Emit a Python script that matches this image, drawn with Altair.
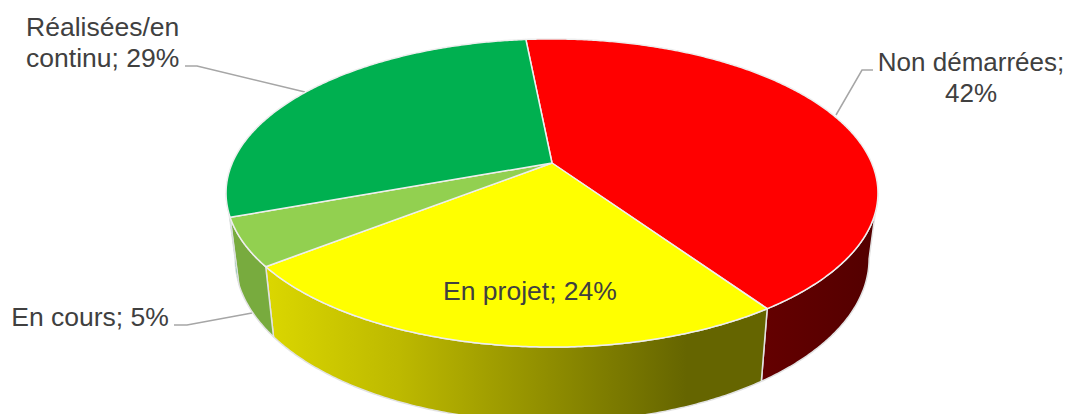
import math
import altair as alt
import pandas as pd

categories = ["Non démarrées", "En projet", "En cours", "Réalisées/en continu"]
shares = [42, 24, 5, 29]
top_colors = ["#ff0000", "#ffff00", "#92d050", "#00b050"]
label_lines = [["Non démarrées;", "42%"], ["En projet; 24%"], ["En cours; 5%"], ["Réalisées/en", "continu; 29%"]]
label_sizes = [26, 26.5, 26.5, 26.5]

START = -5.6
K = 0.1948
CX = 552


def project(theta, ring):
    a, b, y0 = ring
    u, v = math.sin(math.radians(theta)), -math.cos(math.radians(theta))
    d = 1 - K * v
    return CX + a * u / d, y0 + b * v / d


TOP = (319.7, 148.2, 163.0)
BOTTOM = (311.0, 157.0, 227.0)
SIL = math.degrees(math.asin(K))


def arc(t0, t1, ring):
    n = max(2, int(abs(t1 - t0)) * 2)
    return [project(t0 + (t1 - t0) * i / n, ring) for i in range(n + 1)]


def frame(points):
    return pd.DataFrame([{"x": x, "y": y, "i": i} for i, (x, y) in enumerate(points)])


bounds = [START]
for s in shares:
    bounds.append(bounds[-1] + s * 3.6)

X = alt.X("x:Q", scale=alt.Scale(domain=[8, 1066], nice=False, zero=False), axis=None)
Y = alt.Y("y:Q", scale=alt.Scale(domain=[414, 8], nice=False, zero=False), axis=None)


def poly(points, fill, stroke, width=1.5):
    return alt.Chart(frame(points)).mark_line(
        fill=fill, stroke=stroke, strokeWidth=width, strokeJoin="round", interpolate="linear"
    ).encode(x=X, y=Y, order=alt.Order("i:Q"))


def grad(stops):
    return alt.Gradient(
        gradient="linear", x1=0, x2=1, y1=0, y2=0,
        stops=[alt.GradientStop(offset=o, color=c) for o, c in stops],
    )


def wall(t0, t1):
    return arc(t0, t1, TOP) + arc(t1, t0, BOTTOM) + [project(t0, TOP)]


layers = []

# leader lines
leaders = [
    [(873, 70), (862, 70), (836, 115)],
    [(185, 66), (197, 66), (305, 92)],
    [(174, 325), (187, 325), (252, 313)],
]
for pts in leaders:
    layers.append(
        alt.Chart(frame(pts)).mark_line(stroke="#a6a6a6", strokeWidth=1.5).encode(x=X, y=Y, order=alt.Order("i:Q"))
    )

# side walls
WALL_EDGE = "#e2e2e2"
layers.append(poly(wall(90 + SIL, bounds[1]), grad([(0, "#640000"), (1, "#530000")]), WALL_EDGE))
layers.append(poly(wall(bounds[1], bounds[2]),
                   grad([(0, "#dbd700"), (0.265, "#bdb900"), (0.84, "#656500"), (1, "#656500")]), WALL_EDGE))
layers.append(poly(wall(bounds[2], bounds[3]), "#78ab3e", WALL_EDGE))
layers.append(poly(wall(bounds[3], 270 - SIL), "#4fb58a", WALL_EDGE, 1))

# top faces
for k in range(4):
    pts = [project(0, (0, 0, TOP[2]))] + arc(bounds[k], bounds[k + 1], TOP) + [project(0, (0, 0, TOP[2]))]
    layers.append(poly(pts, top_colors[k], "#eeeeee", 1.5))

# labels
anchors = [(971, 70.5), (530, 300), (90, 326), (102.7, 36)]
for lines, (x, y), size in zip(label_lines, anchors, label_sizes):
    rows = [{"x": x, "y": y + j * 31, "t": line} for j, line in enumerate(lines)]
    layers.append(
        alt.Chart(pd.DataFrame(rows)).mark_text(
            font="Liberation Sans", fontSize=size, color="#404040", align="center", baseline="alphabetic"
        ).encode(x=X, y=Y, text="t:N")
    )

chart = (
    alt.layer(*layers)
    .properties(width=1058, height=406, padding=0, autosize=alt.AutoSizeParams(type="none"))
    .configure_view(stroke=None)
)
chart.save("out.html", embed_options={"renderer": "svg", "actions": False})
